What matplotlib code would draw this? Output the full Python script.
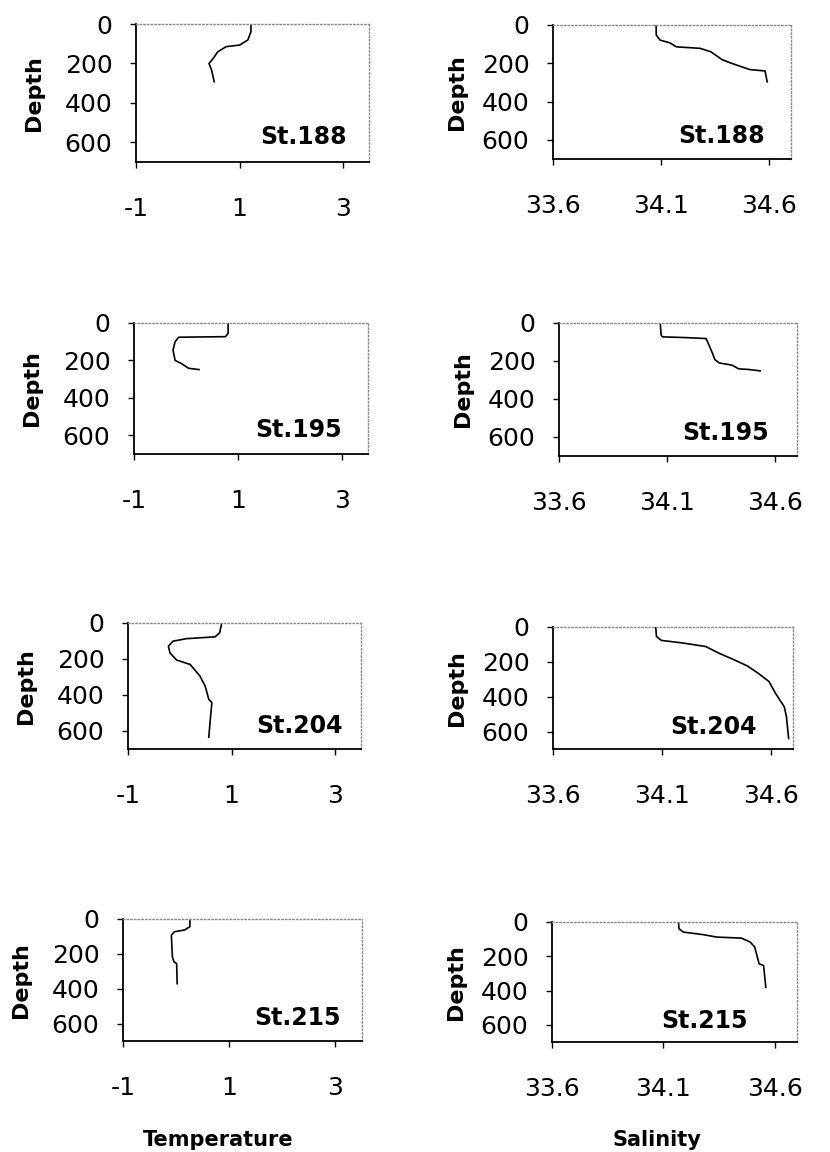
import matplotlib
matplotlib.use("Agg")
from matplotlib import pyplot as plt

plt.rcParams['font.family'] = ['DejaVu Sans']

stations = ['St.188', 'St.195', 'St.204', 'St.215']

# temperature profiles (depth, temperature)
t188_depth = [0, 39, 81, 107, 115, 141, 175, 200, 234, 293]
t188_temp = [1.22, 1.22, 1.16, 1.00, 0.74, 0.58, 0.49, 0.41, 0.46, 0.51]

t195_depth = [0, 55, 73, 76, 100, 145, 200, 218, 242, 249]
t195_temp = [0.81, 0.81, 0.76, -0.14, -0.21, -0.25, -0.21, -0.08, 0.05, 0.25]

t204_depth = [0, 55, 77, 87, 101, 129, 166, 206, 230, 295, 350, 424, 442, 534, 635]
t204_temp = [0.81, 0.77, 0.68, 0.13, -0.13, -0.22, -0.19, -0.06, 0.20, 0.39, 0.49, 0.56, 0.62, 0.59, 0.56]

t215_depth = [0, 44, 63, 73, 92, 217, 246, 256, 371]
t215_temp = [0.26, 0.26, 0.16, -0.03, -0.09, -0.07, -0.04, 0.01, 0.02]

# salinity profiles (depth, salinity)
s188_depth = [0, 52, 79, 93, 114, 122, 140, 180, 198, 233, 240, 297]
s188_sal = [34.077, 34.077, 34.095, 34.14, 34.17, 34.28, 34.33, 34.38, 34.42, 34.51, 34.58, 34.59]

s195_depth = [0, 65, 73, 77, 82, 108, 161, 192, 210, 222, 241, 245, 252]
s195_sal = [34.068, 34.072, 34.079, 34.19, 34.28, 34.29, 34.31, 34.32, 34.34, 34.40, 34.43, 34.48, 34.53]

s204_depth = [0, 54, 77, 92, 112, 150, 188, 223, 265, 313, 381, 458, 515, 640]
s204_sal = [34.071, 34.074, 34.097, 34.196, 34.30, 34.36, 34.43, 34.49, 34.54, 34.59, 34.62, 34.66, 34.67, 34.68]

s215_depth = [0, 39, 59, 74, 88, 94, 117, 146, 195, 244, 254, 381]
s215_sal = [34.168, 34.17, 34.19, 34.28, 34.34, 34.45, 34.49, 34.51, 34.52, 34.53, 34.55, 34.56]

temp_ticks = [-1, 1, 3]
sal_ticks = [33.6, 34.1, 34.6]
depth_ticks = [0, 200, 400, 600]

temp_data = [(t188_temp, t188_depth), (t195_temp, t195_depth),
             (t204_temp, t204_depth), (t215_temp, t215_depth)]
sal_data = [(s188_sal, s188_depth), (s195_sal, s195_depth),
            (s204_sal, s204_depth), (s215_sal, s215_depth)]

W, H = 830, 1152
fig = plt.figure(figsize=(W / 100, H / 100), dpi=100)

# panel boxes in pixels: left, top, right, bottom
temp_boxes = [(136, 24, 369, 162), (134, 323, 368, 454),
              (128, 623, 361, 749), (123, 919, 362, 1041)]
sal_boxes = [(553, 25, 791, 159), (559, 323, 797, 456),
             (553, 627, 793, 749), (552, 922, 797, 1042)]
temp_lbl_x = [0.905, 0.89, 0.92, 0.91]
sal_lbl_x = [0.89, 0.88, 0.85, 0.80]


def make_ax(box):
    l, t, r, b = box
    return fig.add_axes([l / W, 1 - b / H, (r - l) / W, (b - t) / H])


def style(ax, box, depth_off):
    for side in ['top', 'right']:
        ax.spines[side].set_color('#8a8a8a')
        ax.spines[side].set_linestyle(':')
        ax.spines[side].set_linewidth(1.0)
    for side in ['left', 'bottom']:
        ax.spines[side].set_color('black')
        ax.spines[side].set_linewidth(1.3)
    ax.set_ylim(700, 0)
    ax.set_yticks(depth_ticks)
    ax.tick_params(axis='x', direction='out', length=4, width=1, pad=21, labelsize=18)
    ax.tick_params(axis='y', direction='out', length=4, width=1, pad=13, labelsize=18)
    ax.set_ylabel('Depth', fontsize=16, fontweight='bold')
    ax.yaxis.set_label_coords(-depth_off / (box[2] - box[0]), 0.5)


for i in range(4):
    ax = make_ax(temp_boxes[i])
    x, d = temp_data[i]
    ax.plot(x, d, color='black', linewidth=1.2)
    style(ax, temp_boxes[i], 92)
    ax.set_xlim(-1, 3.5)
    ax.set_xticks(temp_ticks)
    ax.set_xticklabels([str(v) for v in temp_ticks])
    ax.text(temp_lbl_x[i], 0.13, stations[i], transform=ax.transAxes,
            ha='right', va='baseline', fontsize=17, fontweight='bold')

    ax = make_ax(sal_boxes[i])
    x, d = sal_data[i]
    ax.plot(x, d, color='black', linewidth=1.2)
    style(ax, sal_boxes[i], 86)
    ax.set_xlim(33.6, 34.7)
    ax.set_xticks(sal_ticks)
    ax.set_xticklabels([f'{v:.1f}' for v in sal_ticks])
    ax.text(sal_lbl_x[i], 0.12, stations[i], transform=ax.transAxes,
            ha='right', va='baseline', fontsize=17, fontweight='bold')

fig.text(218 / W, 1 - 1140 / H, 'Temperature', ha='center', va='center',
         fontsize=15, fontweight='bold')
fig.text(657 / W, 1 - 1140 / H, 'Salinity', ha='center', va='center',
         fontsize=15, fontweight='bold')

fig.savefig('out.png', dpi=100)
